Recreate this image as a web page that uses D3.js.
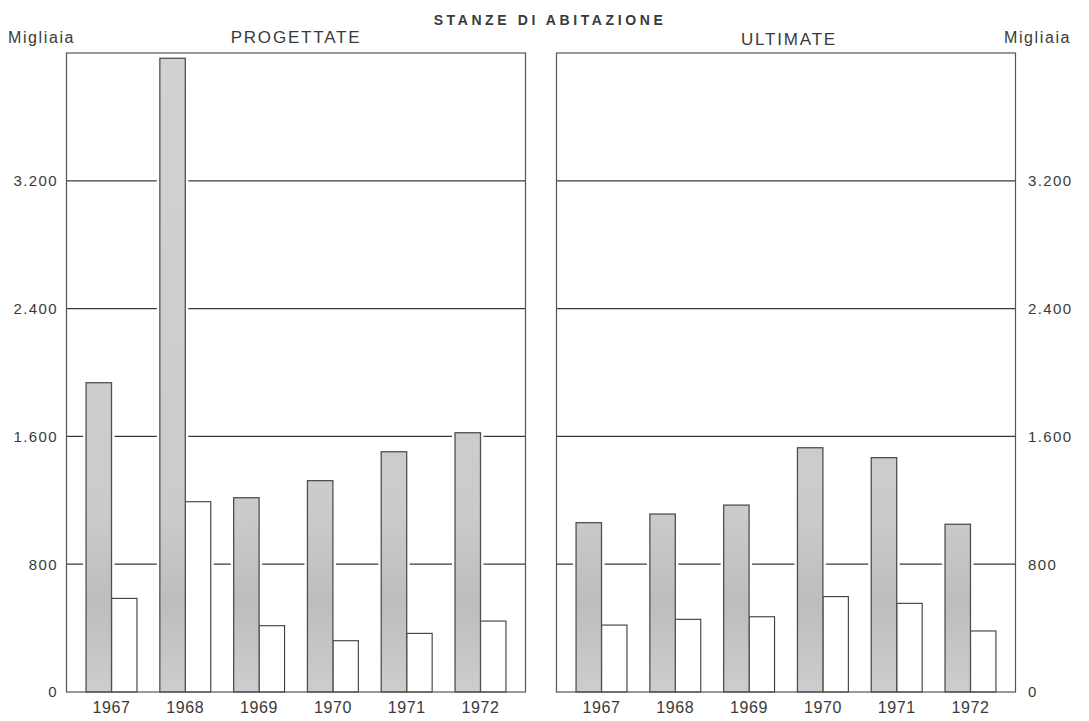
<!DOCTYPE html>
<html>
<head>
<meta charset="utf-8">
<script src="https://cdn.jsdelivr.net/npm/d3@7"></script>
<style>
  body { margin: 0; background: #fff; }
  text { font-family: "Liberation Sans", Arial, sans-serif; fill: #3a3a3a; }
</style>
</head>
<body>
<svg width="1089" height="721"></svg>
<script>
// dati (migliaia di stanze)
const years = ['1967', '1968', '1969', '1970', '1971', '1972']
const progettateGrigio = [1936, 3967, 1216, 1323, 1504, 1623]
const progettateBianco = [586, 1191, 415, 321, 367, 444]
const ultimateGrigio = [1060, 1114, 1170, 1529, 1467, 1050]
const ultimateBianco = [419, 455, 471, 597, 555, 382]
const tickValues = [0, 800, 1600, 2400, 3200]
const yMax = 4000

const svg = d3.select('svg')
const yTop = 53
const yBottom = 692

const it = d3.formatLocale({ decimal: ',', thousands: '.', grouping: [3], currency: ['', ''] })
const fmt = it.format(',')

const y = d3.scaleLinear().domain([0, yMax]).range([yBottom, yTop])

const defs = svg.append('defs')
const grad = defs.append('linearGradient')
    .attr('id', 'grigio')
    .attr('gradientUnits', 'userSpaceOnUse')
    .attr('x1', 0).attr('x2', 0).attr('y1', yTop).attr('y2', yBottom)
grad.append('stop').attr('offset', 0).attr('stop-color', '#d2d2d2')
grad.append('stop').attr('offset', 0.72).attr('stop-color', '#cbcbcb')
grad.append('stop').attr('offset', 0.86).attr('stop-color', '#bdbdbd')
grad.append('stop').attr('offset', 1).attr('stop-color', '#cdcdcd')

function panel(x0, x1, grigio, bianco) {
    const g = svg.append('g')
    const x = d3.scaleBand().domain(years).range([x0, x1])
        .paddingInner(0.31).paddingOuter(0.265)
    const xs = d3.scaleBand().domain([0, 1]).range([0, x.bandwidth()])

    // linee della griglia
    g.selectAll('.grid')
        .data(tickValues.filter(d => d > 0))
        .enter().append('line')
        .attr('x1', x0).attr('x2', x1)
        .attr('y1', d => y(d)).attr('y2', d => y(d))
        .attr('stroke', '#3a3a3a').attr('stroke-width', 1.2)

    const bars = []
    years.forEach((yr, i) => {
        bars.push({ yr, s: 0, v: grigio[i] })
        bars.push({ yr, s: 1, v: bianco[i] })
    })

    // margine bianco attorno alle barre (interrompe la griglia)
    g.selectAll('.halo')
        .data(bars)
        .enter().append('rect')
        .attr('x', d => x(d.yr) + xs(d.s) - 3)
        .attr('y', d => y(d.v) - 3)
        .attr('width', xs.bandwidth() + 6)
        .attr('height', d => yBottom - y(d.v) + 3)
        .attr('fill', '#fff')

    // bianche prima, grigie sopra
    g.selectAll('.bar')
        .data(bars.slice().sort((a, b) => b.s - a.s))
        .enter().append('rect')
        .attr('x', d => x(d.yr) + xs(d.s))
        .attr('y', d => y(d.v))
        .attr('width', xs.bandwidth())
        .attr('height', d => yBottom - y(d.v))
        .attr('fill', d => d.s === 0 ? 'url(#grigio)' : '#fff')
        .attr('stroke', d => d.s === 0 ? '#505050' : '#3a3a3a')
        .attr('stroke-width', d => d.s === 0 ? 1.3 : 1.1)

    // cornice
    g.append('rect')
        .attr('x', x0).attr('y', yTop)
        .attr('width', x1 - x0).attr('height', yBottom - yTop)
        .attr('fill', 'none').attr('stroke', '#555').attr('stroke-width', 1.2)

    // anni
    g.append('g')
        .attr('transform', `translate(0,${yBottom})`)
        .call(d3.axisBottom(x).tickSize(0).tickPadding(10))
        .call(a => a.select('.domain').remove())
        .selectAll('text')
        .attr('font-size', 16).attr('letter-spacing', 0.6)
        .attr('fill', '#3a3a3a')
        .style('font-family', '"Liberation Sans", Arial, sans-serif')
}

panel(66.5, 525.5, progettateGrigio, progettateBianco)
panel(556.5, 1015.5, ultimateGrigio, ultimateBianco)

// assi verticali
function yLabels(xpos, orient) {
    const ax = orient === 'left' ? d3.axisLeft(y) : d3.axisRight(y)
    svg.append('g')
        .attr('transform', `translate(${xpos},0)`)
        .call(ax.tickValues(tickValues).tickFormat(fmt).tickSize(0).tickPadding(0))
        .call(a => a.select('.domain').remove())
        .selectAll('text')
        .attr('font-size', 15).attr('letter-spacing', 1.4)
        .attr('fill', '#3a3a3a')
        .style('font-family', '"Liberation Sans", Arial, sans-serif')
}
yLabels(58, 'left')
yLabels(1028, 'right')

// titoli
svg.append('text')
    .attr('x', 550).attr('y', 25)
    .attr('text-anchor', 'middle')
    .attr('font-size', 14).attr('font-weight', 'bold').attr('letter-spacing', 3.6)
    .text('STANZE DI ABITAZIONE')

svg.append('text')
    .attr('x', 296).attr('y', 43)
    .attr('text-anchor', 'middle')
    .attr('font-size', 17).attr('letter-spacing', 1.8)
    .text('PROGETTATE')

svg.append('text')
    .attr('x', 789).attr('y', 45)
    .attr('text-anchor', 'middle')
    .attr('font-size', 17).attr('letter-spacing', 1.8)
    .text('ULTIMATE')

svg.append('text')
    .attr('x', 8).attr('y', 43)
    .attr('font-size', 16).attr('letter-spacing', 1.6)
    .text('Migliaia')

svg.append('text')
    .attr('x', 1004).attr('y', 43)
    .attr('font-size', 16).attr('letter-spacing', 1.6)
    .text('Migliaia')
</script>
</body>
</html>
